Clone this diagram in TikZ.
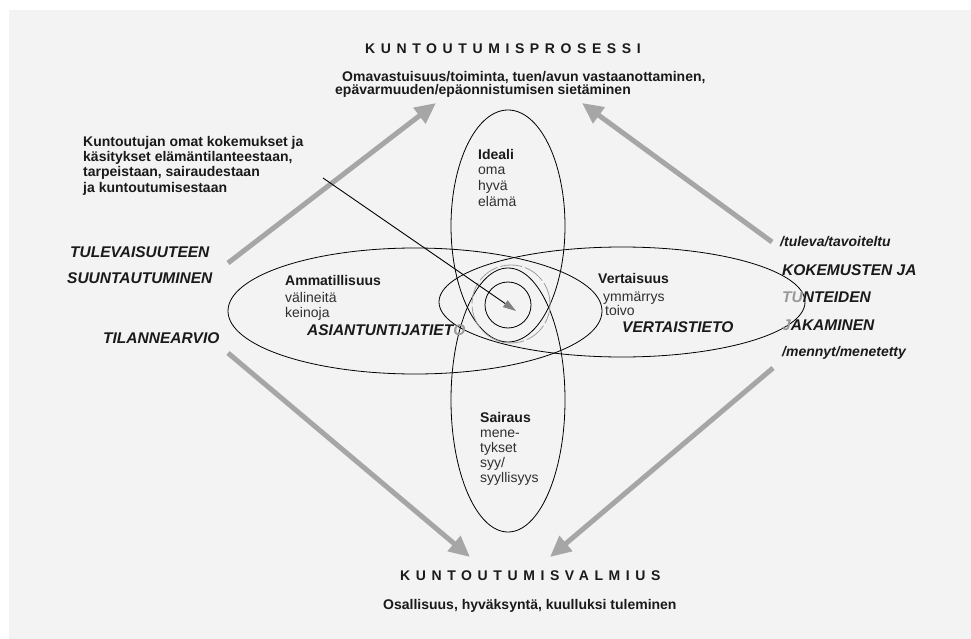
\documentclass[tikz,border=0pt]{standalone}
\usepackage{fontspec}
\setmainfont{Liberation Sans}
\usetikzlibrary{arrows.meta,shapes.geometric}
\definecolor{bg}{HTML}{F3F3F3}
\definecolor{txt}{HTML}{1A1A1A}
\definecolor{soft}{HTML}{303030}
\definecolor{fade}{HTML}{9A9A9A}
\definecolor{arrowgray}{HTML}{A6A6A6}
\newcommand\spacedcaps[1]{{\addfontfeature{LetterSpace=40}#1}}
\begin{document}
\begin{tikzpicture}[x=1pt,y=-1pt,
  lbl/.style={inner sep=0pt, anchor=base west, text=txt},
  fb/.style={font=\fontsize{14}{16}\selectfont\bfseries},
  fr/.style={font=\fontsize{14}{16}\selectfont, text=soft},
  fbi/.style={font=\fontsize{15.5}{18}\selectfont\bfseries\itshape},
  fsi/.style={font=\fontsize{14}{16}\selectfont\bfseries\itshape},
  ring/.style={draw=black, line width=0.8pt, ellipse, inner sep=0pt, outer sep=0pt},
  bigarrow/.style={draw=arrowgray, line width=5pt, -{Triangle[length=21pt,width=19pt,fill=arrowgray]}},
  thinarrow/.style={draw=black, line width=0.9pt, -{Triangle[length=13pt,width=8pt,fill=gray,color=gray]}}
]
\useasboundingbox (0,0) rectangle (971,639);
\fill[white] (0,0) rectangle (971,639);
\fill[bg] (9,10) rectangle (971,639);

% ellipses
\node[ring, minimum width=114, minimum height=232] (ideali) at (508,226) {};
\node[ring, minimum width=114, minimum height=264] (sairaus) at (508,400) {};
\node[ring, minimum width=374, minimum height=126] (ammat) at (415,311) {};
\node[ring, minimum width=366, minimum height=110] (vertais) at (622,302) {};
\node[circle, draw=gray!75, line width=0.8pt, dash pattern=on 22pt off 3pt, minimum size=78, inner sep=0pt] (halo) at (511,304) {};
\node[circle, draw=black, line width=0.8pt, minimum size=46, inner sep=0pt] (core) at (508,305) {};

% big gray arrows
\coordinate (a1s) at (228,263); \coordinate (a1e) at (436,103);
\coordinate (a2s) at (772,242); \coordinate (a2e) at (582,103);
\coordinate (a3s) at (228,353); \coordinate (a3e) at (470,557);
\coordinate (a4s) at (773,368); \coordinate (a4e) at (550,557);
\draw[bigarrow] (a1s) -- (a1e);
\draw[bigarrow] (a2s) -- (a2e);
\draw[bigarrow] (a3s) -- (a3e);
\draw[bigarrow] (a4s) -- (a4e);

% thin arrow into the centre
\coordinate (ks) at (323,178);
\coordinate (kc) at (516,311);
\draw[thinarrow] (ks) -- (kc);

% titles
\node[lbl, fb] (t1) at (365,54) {\spacedcaps{KUNTOUTUMISPROSESSI}};
\node[lbl, fb] (t1a) at (342,82) {Omavastuisuus/toiminta, tuen/avun vastaanottaminen,};
\node[lbl, fb] (t1b) at (335,95) {epävarmuuden/epäonnistumisen sietäminen};
\node[lbl, fb] (t2) at (400,580) {\spacedcaps{KUNTOUTUMISVALMIUS}};
\node[lbl, fb] (t2a) at (383,609) {Osallisuus, hyväksyntä, kuulluksi tuleminen};

% left text block
\node[lbl, fb] (k1) at (83,147) {Kuntoutujan omat kokemukset ja};
\node[lbl, fb] (k2) at (83,162) {käsitykset elämäntilanteestaan,};
\node[lbl, fb] (k3) at (83,177) {tarpeistaan, sairaudestaan};
\node[lbl, fb] (k4) at (83,193) {ja kuntoutumisestaan};
\node[lbl, fbi] (tul) at (70,257) {TULEVAISUUTEEN};
\node[lbl, fbi] (suu) at (67,283) {SUUNTAUTUMINEN};
\node[lbl, fbi] (til) at (103,343) {TILANNEARVIO};

% Ammatillisuus
\node[lbl, fb] (am1) at (285,285) {Ammatillisuus};
\node[lbl, fr] (am2) at (285,302) {välineitä};
\node[lbl, fr] (am3) at (285,317) {keinoja};
\node[lbl, fbi] (am4) at (307,335) {ASIANTUNTIJATIET\textcolor{fade}{O}};

% Ideali
\node[lbl, fb] (id1) at (478,160) {Ideali};
\node[lbl, fr] (id2) at (478,175) {oma};
\node[lbl, fr] (id3) at (478,190) {hyvä};
\node[lbl, fr] (id4) at (478,206) {elämä};

% Vertaisuus
\node[lbl, fb] (ve1) at (598,283) {Vertaisuus};
\node[lbl, fr] (ve2) at (603,301) {ymmärrys};
\node[lbl, fr] (ve3) at (605,315) {toivo};
\node[lbl, fbi] (ve4) at (622,332) {VERTAISTIETO};

% right text block
\node[lbl, fsi] (r1) at (780,246) {/tuleva/tavoiteltu};
\node[lbl, fbi] (r2) at (782,275) {KOKEMUSTEN JA};
\node[lbl, fbi] (r3) at (782,302) {\textcolor{fade}{TU}NTEIDEN};
\node[lbl, fbi] (r4) at (782,330) {\textcolor{fade}{J}AKAMINEN};
\node[lbl, fsi] (r5) at (782,356) {/mennyt/menetetty};

% Sairaus
\node[lbl, fb] (sa1) at (480,422) {Sairaus};
\node[lbl, fr] (sa2) at (480,437) {mene-};
\node[lbl, fr] (sa3) at (480,452) {tykset};
\node[lbl, fr] (sa4) at (480,467) {syy/};
\node[lbl, fr] (sa5) at (480,482) {syyllisyys};
\end{tikzpicture}
\end{document}
